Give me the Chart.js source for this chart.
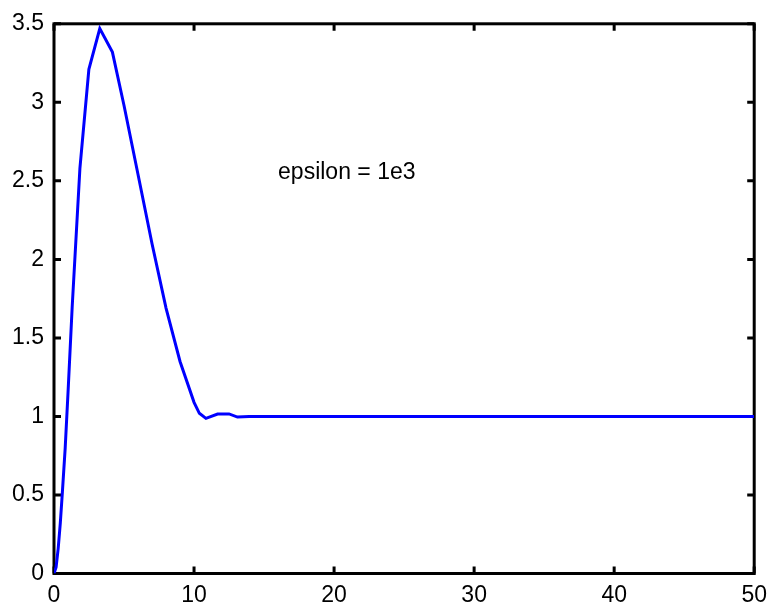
<!DOCTYPE html>
<html>
<head>
<meta charset="utf-8">
<script src="https://cdn.jsdelivr.net/npm/chart.js@4.4.0/dist/chart.umd.min.js"></script>
<style>
  html, body { margin: 0; padding: 0; background: #ffffff; }
  #c { display: block; }
</style>
</head>
<body>
<canvas id="c" width="775" height="609"></canvas>
<script>
// Data
const tValues = [0, 0.15, 0.3, 0.45, 0.6, 0.8, 1.0, 1.3, 1.85, 2.49, 3.27, 4.17, 5.0, 6.0, 7.0, 8.0, 9.0, 10.0, 10.38, 10.85, 11.68, 12.5, 13.1, 13.93, 16, 20, 25, 30, 35, 40, 45, 50];
const yValues = [0, 0.04, 0.16, 0.32, 0.52, 0.8, 1.15, 1.7, 2.58, 3.21, 3.47, 3.32, 2.98, 2.54, 2.10, 1.69, 1.35, 1.09, 1.02, 0.988, 1.015, 1.016, 0.996, 1.0, 1.0, 1.0, 1.0, 1.0, 1.0, 1.0, 1.0, 1.0];
const xTicks = [0, 10, 20, 30, 40, 50];
const yTicks = [0, 0.5, 1, 1.5, 2, 2.5, 3, 3.5];
const annotationText = 'epsilon = 1e3';
const annotationX = 16;
const annotationY = 2.55;

const FONT = 'Liberation Sans, Arial, Helvetica, sans-serif';

const points = tValues.map((t, i) => ({ x: t, y: yValues[i] }));

const framePlugin = {
  id: 'frame',
  beforeDatasetsDraw(chart) {
    const { ctx, chartArea: a, scales } = chart;
    ctx.save();
    ctx.strokeStyle = '#000000';
    ctx.lineWidth = 3;
    ctx.strokeRect(a.left, a.top, a.right - a.left, a.bottom - a.top);
    const tl = 7;
    ctx.beginPath();
    xTicks.forEach(v => {
      const px = scales.x.getPixelForValue(v);
      ctx.moveTo(px, a.bottom); ctx.lineTo(px, a.bottom - tl);
      ctx.moveTo(px, a.top); ctx.lineTo(px, a.top + tl);
    });
    yTicks.forEach(v => {
      const py = scales.y.getPixelForValue(v);
      ctx.moveTo(a.left, py); ctx.lineTo(a.left + tl, py);
      ctx.moveTo(a.right, py); ctx.lineTo(a.right - tl, py);
    });
    ctx.stroke();
    ctx.restore();
  },
  afterDraw(chart) {
    const { ctx, scales } = chart;
    ctx.save();
    ctx.fillStyle = '#000000';
    ctx.font = '23px ' + FONT;
    ctx.textAlign = 'left';
    ctx.textBaseline = 'middle';
    ctx.fillText(annotationText, scales.x.getPixelForValue(annotationX), scales.y.getPixelForValue(annotationY));
    ctx.restore();
  }
};

new Chart(document.getElementById('c'), {
  type: 'line',
  data: {
    datasets: [{
      data: points,
      borderColor: '#0000ff',
      borderWidth: 3,
      pointRadius: 0,
      fill: false,
      tension: 0
    }]
  },
  options: {
    responsive: false,
    devicePixelRatio: 1,
    animation: false,
    layout: { padding: { top: 18, right: 17.5, left: 0, bottom: 0 } },
    plugins: { legend: { display: false }, tooltip: { enabled: false } },
    scales: {
      x: {
        type: 'linear',
        min: 0, max: 50,
        afterBuildTicks(scale) { scale.ticks = xTicks.map(v => ({ value: v })); },
        afterFit(scale) { scale.height = 35.5; },
        ticks: { color: '#000000', font: { family: FONT, size: 23 }, padding: 8, maxRotation: 0, autoSkip: false, callback: v => String(v) },
        grid: { display: false, drawTicks: false },
        border: { display: false }
      },
      y: {
        type: 'linear',
        min: 0, max: 3.5,
        afterBuildTicks(scale) { scale.ticks = yTicks.map(v => ({ value: v })); },
        afterFit(scale) { scale.width = 54; },
        ticks: { color: '#000000', font: { family: FONT, size: 23 }, padding: 10, autoSkip: false, callback: v => String(v) },
        grid: { display: false, drawTicks: false },
        border: { display: false }
      }
    }
  },
  plugins: [framePlugin]
});
</script>
</body>
</html>
